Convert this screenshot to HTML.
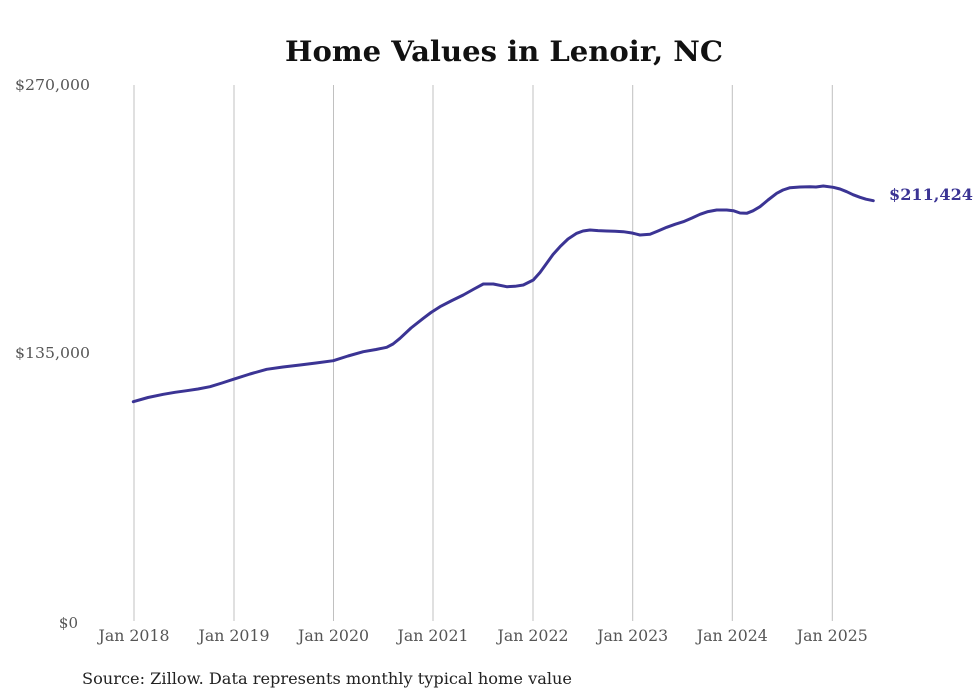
<!DOCTYPE html>
<html><head><meta charset="utf-8"><style>
html,body{margin:0;padding:0;background:#fff;}
svg{display:block;}
text{font-family:"DejaVu Serif","Liberation Serif",serif;}
</style></head><body>
<svg width="980" height="699" viewBox="0 0 980 699" xmlns="http://www.w3.org/2000/svg">
<rect width="980" height="699" fill="#fff"/>
<text x="504" y="61" text-anchor="middle" font-size="28" font-weight="bold" fill="#111" textLength="438" lengthAdjust="spacingAndGlyphs">Home Values in Lenoir, NC</text>
<g stroke="#c0c0c0" stroke-width="1">
<line x1="134" y1="85" x2="134" y2="621"/>
<line x1="234" y1="85" x2="234" y2="621"/>
<line x1="333.5" y1="85" x2="333.5" y2="621"/>
<line x1="433" y1="85" x2="433" y2="621"/>
<line x1="533" y1="85" x2="533" y2="621"/>
<line x1="632.7" y1="85" x2="632.7" y2="621"/>
<line x1="732.3" y1="85" x2="732.3" y2="621"/>
<line x1="832.3" y1="85" x2="832.3" y2="621"/>
</g>
<g font-size="15" fill="#555" text-anchor="end">
<text x="90" y="90" textLength="75" lengthAdjust="spacingAndGlyphs">$270,000</text>
<text x="90" y="358" textLength="75" lengthAdjust="spacingAndGlyphs">$135,000</text>
<text x="78" y="628">$0</text>
</g>
<g font-size="16" fill="#555" text-anchor="middle">
<text x="134" y="641" textLength="71" lengthAdjust="spacingAndGlyphs">Jan 2018</text>
<text x="234" y="641" textLength="71" lengthAdjust="spacingAndGlyphs">Jan 2019</text>
<text x="333.5" y="641" textLength="71" lengthAdjust="spacingAndGlyphs">Jan 2020</text>
<text x="433" y="641" textLength="71" lengthAdjust="spacingAndGlyphs">Jan 2021</text>
<text x="533" y="641" textLength="71" lengthAdjust="spacingAndGlyphs">Jan 2022</text>
<text x="632.7" y="641" textLength="71" lengthAdjust="spacingAndGlyphs">Jan 2023</text>
<text x="732.3" y="641" textLength="71" lengthAdjust="spacingAndGlyphs">Jan 2024</text>
<text x="832.3" y="641" textLength="71" lengthAdjust="spacingAndGlyphs">Jan 2025</text>
</g>
<polyline fill="none" stroke="#3b3494" stroke-width="3" stroke-linejoin="round" stroke-linecap="round"
points="133.3,401.7 148,397.5 163.3,394.3 175,392.3 186.7,390.7 198,389 210,386.7 222,383 233.3,379.3 250,374 266.7,369.3 283,367 300,365 316,363 333.3,360.7 348,356 363.3,351.7 376,349.5 386.7,347.3 393,344 400,338.3 411,328 423.3,318.3 431,312.5 440,306.7 452,300.5 463.3,295 474,289 483.3,284 493.3,284 506.7,286.7 515,286.3 523.3,285 533.3,280 540,272.5 546.7,263.3 553,254.5 560,246.7 568,239 576.7,233.3 583,231 590,230 598,230.6 606.7,231 615,231.3 623.3,231.7 632,233 640,235 650,234.3 658,231 666.7,227.3 675,224.3 683.3,221.7 692,218 700,214.3 708,211.6 716.7,210 726.7,210 733.3,210.7 740,213 746.7,213.3 753,210.8 760,206.7 768,200 776.7,193.3 783,190 790,187.7 800,187 810,186.7 816,187 823.3,186 833.3,187.3 840,189 846.7,191.7 853,194.7 860,197.3 866,199.2 873.3,200.7"/>
<text x="889" y="200" font-size="16" font-weight="bold" fill="#3b3494" textLength="84" lengthAdjust="spacingAndGlyphs">$211,424</text>
<text x="82" y="684" font-size="16" fill="#222" textLength="490" lengthAdjust="spacingAndGlyphs">Source: Zillow. Data represents monthly typical home value</text>
</svg>
</body></html>
